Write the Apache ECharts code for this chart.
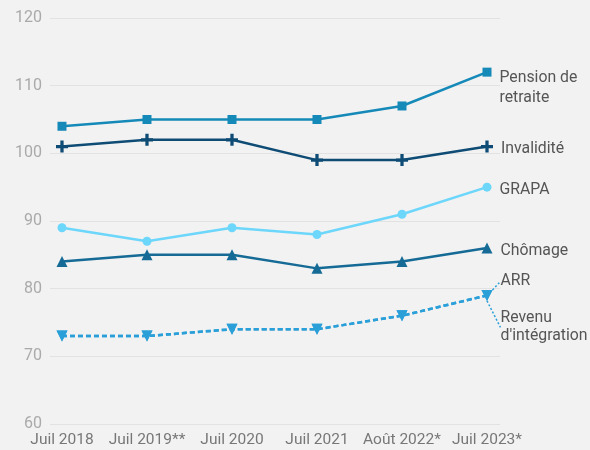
<!DOCTYPE html>
<html><head><meta charset="utf-8">
<script src="https://cdn.jsdelivr.net/npm/echarts@6/dist/echarts.min.js"></script>
<style>html,body{margin:0;padding:0;background:#f2f2f2}#c{width:590px;height:450px}</style>
</head><body><div id="c"></div>
<script>
const categories = ['Juil 2018','Juil 2019**','Juil 2020','Juil 2021','Août 2022*','Juil 2023*'];
const yTicks = [60,70,80,90,100,110,120];
const pension = [104,105,105,105,107,112];
const invalidite = [101,102,102,99,99,101];
const grapa = [89,87,89,88,91,95];
const chomage = [84,85,85,83,84,86];
const arr = [73,73,74,74,76,79];
const revenu = [73,73,74,74,76,79];

const toPts = a => a.map((v,i)=>[i,v]);
const plus = 'path://M4,0h3v4h4v3h-4v4h-3v-4h-4v-3h4z';
const lblBase = {color:'#555', fontSize:15.8, fontFamily:'Roboto', lineHeight:20, align:'left'};

function mk(name, data, color, symbol, size, label, extra) {
  const d = toPts(data);
  const last = d.length - 1;
  const s = {
    name, type:'line', data: d.map((p,i)=> i===last ? {value:p, label:Object.assign({show:true, position:'right', distance:8}, lblBase, label)} : p),
    symbol, symbolSize:size, showSymbol:true,
    lineStyle:{color, width:2.5}, itemStyle:{color},
    label:{show:false}, animation:false, z: 3
  };
  return Object.assign(s, extra||{});
}

const chart = echarts.init(document.getElementById('c'));
chart.setOption({
  backgroundColor:'#f2f2f2',
  grid:{left:50, right:90, top:18, bottom:26},
  xAxis:{type:'value', min:-0.141, max:5.153,
    axisLine:{show:false}, axisTick:{show:false}, splitLine:{show:false},
    axisLabel:{customValues:[0,1,2,3,4,5], formatter:v=>categories[Math.round(v)], color:'#777', fontSize:15.5, fontFamily:'Roboto', margin:8, hideOverlap:false}},
  yAxis:{type:'value', min:60, max:120, interval:10,
    axisLine:{show:false}, axisTick:{show:false},
    splitLine:{lineStyle:{color:'#e2e2e2', width:1}},
    axisLabel:{color:'#aaa', fontSize:16, fontFamily:'Roboto', margin:8, formatter:v=>yTicks.includes(v)?String(v):''}},
  series:[
    mk('Pension de retraite', pension, '#1589b8', 'rect', 9, {formatter:'Pension de\nretraite', offset:[0,16]}),
    mk('Invalidité', invalidite, '#0f4c75', plus, 12, {formatter:'Invalidité', offset:[0,2]}),
    mk('GRAPA', grapa, '#6dd6fb', 'circle', 9, {formatter:'GRAPA', offset:[0,3]}),
    mk('Chômage', chomage, '#156b96', 'triangle', 11, {formatter:'Chômage', offset:[0,3]}),
    mk('ARR', arr, '#2a9fd8', 'triangle', 11, {formatter:'ARR'}, {symbolRotate:180, lineStyle:{color:'#2a9fd8', width:2.5, type:[5,3]},
      labelLayout:{dx:0, dy:-14}, labelLine:{show:true, lineStyle:{color:'#2a9fd8', type:[2,2], width:1.5}}}),
    mk("Revenu d'intégration", revenu, '#2a9fd8', 'triangle', 11, {formatter:"Revenu\nd'intégration", lineHeight:18}, {symbolRotate:180, lineStyle:{color:'#2a9fd8', width:2.5, type:[5,3]},
      labelLayout:{dx:0, dy:32}, labelLine:{show:true, lineStyle:{color:'#2a9fd8', type:[2,2], width:1.5}}})
  ]
});
</script></body></html>
